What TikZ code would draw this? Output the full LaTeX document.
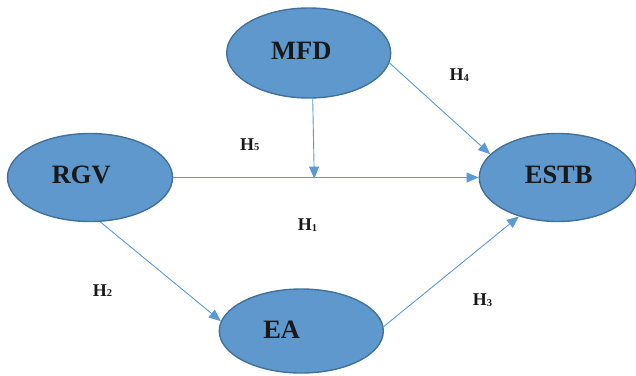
\documentclass[tikz,border=0pt]{standalone}
\usepackage{fontspec}
\setmainfont{Liberation Serif}
\usetikzlibrary{arrows.meta,shapes.geometric}
\definecolor{ellfill}{HTML}{5E98CC}
\definecolor{elledge}{HTML}{41719C}
\definecolor{arrcol}{HTML}{5B9BD5}
\tikzset{
  var/.style={ellipse, draw=elledge, fill=ellfill, line width=1.4pt, inner sep=0pt},
  vartext/.style={font=\fontsize{26.5}{30}\selectfont\bfseries, text=black!90, inner sep=0pt, anchor=base},
  link/.style={draw=arrcol, line width=0.9pt, -{Triangle[length=12pt,width=10pt]}},
  hyp/.style={font=\fontsize{18}{20}\selectfont\bfseries, text=black!90, inner sep=0pt, anchor=base west}
}
\newcommand{\hyplab}[1]{H\raisebox{-0.5pt}{\fontsize{10.5}{11}\selectfont #1}}
\begin{document}
\begin{tikzpicture}[x=1pt,y=-1pt]
\useasboundingbox (0,0) rectangle (636,375);
% ellipses
\node[var, minimum width=164pt, minimum height=90pt] (mfd) at (308.7,53) {};
\node[var, minimum width=165pt, minimum height=88pt] (rgv) at (90,177.5) {};
\node[var, minimum width=157pt, minimum height=88pt] (estb) at (557.8,177.5) {};
\node[var, minimum width=164pt, minimum height=84pt] (ea) at (301.3,331) {};
% texts
\node[vartext] (mfdt) at (301.3,59.3) {MFD};
\node[vartext] (rgvt) at (81.3,183.3) {RGV};
\node[vartext] (estbt) at (558.7,183.3) {ESTB};
\node[vartext] (eat) at (281.7,338) {EA};
% moderation point
\coordinate (mod) at (314.3,178.6);
% connectors
\draw[link] (rgv.east) -- (estb.west);
\draw[link] (mfd.-85) -- (mod);
\draw[link] (mfd.-7) -- (estb.161);
\draw[link] (rgv.-77) -- (ea.173);
\draw[link] (ea.3) -- (estb.-135);
% hypothesis labels
\node[hyp] (h1) at (297.7,230.7) {\hyplab{1}};
\node[hyp] (h2) at (92.7,296) {\hyplab{2}};
\node[hyp] (h3) at (472.7,305.7) {\hyplab{3}};
\node[hyp] (h4) at (449.3,80.7) {\hyplab{4}};
\node[hyp] (h5) at (240,150) {\hyplab{5}};
\end{tikzpicture}
\end{document}
